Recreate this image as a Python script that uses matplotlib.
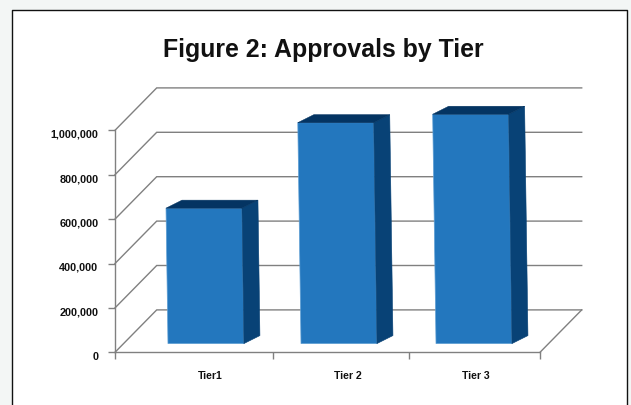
# Figure 2: fake 3D bars, approvals by tier

import matplotlib
matplotlib.use('Agg')
import matplotlib.pyplot as plt
from matplotlib.patches import Polygon, Rectangle
from matplotlib.ticker import FuncFormatter
from matplotlib.transforms import ScaledTranslation

plt.rcParams['font.family'] = ['Liberation Sans', 'DejaVu Sans']

categories = ['Tier1', 'Tier 2', 'Tier 3']
approvals = [610000, 995000, 1033000]
y_ticks = [0, 200000, 400000, 600000, 800000, 1000000]

W, H = 631, 406
GRID = '#808080'
FRONT = '#2377be'
SIDE = '#084276'
TOP = '#043462'

fig = plt.figure(figsize=(W / 100, H / 100), dpi=100)
fig.patch.set_facecolor('#f3f6f5')

# white panel, black frame on three sides (runs off the bottom)
fig.add_artist(Rectangle((12 / W, 0), 615 / W, 1 - 11 / H, transform=fig.transFigure,
                         facecolor='white', edgecolor='none', zorder=-2))
fig.add_artist(plt.Line2D([12 / W, 12 / W, 627 / W, 627 / W],
                          [0, 1 - 11 / H, 1 - 11 / H, 0],
                          transform=fig.transFigure, color='#111111', lw=1.0, zorder=-1))

fig.text(323 / W, 1 - 57 / H, 'Figure 2: Approvals by Tier', fontsize=17.9,
         fontweight='bold', ha='center', va='baseline', color='#111111')

# front plane of the chart
ax = fig.add_axes([115 / W, 1 - 353.3 / H, 425 / W, 222 / H])
ax.set_xlim(0, 3)
ax.set_ylim(0, 1000000)
ax.patch.set_alpha(0.0)

px_x = 3 / 425
px_y = 1000000 / 222

# back wall offset
wall_dx = 41.7 * px_x
wall_dy = 42.4 * px_y

for v in y_ticks:
    ax.plot([0, wall_dx, 3 + wall_dx], [v, v + wall_dy, v + wall_dy], color=GRID,
            lw=1.0, clip_on=False, zorder=1, solid_joinstyle='miter')
ax.plot([3, 3 + wall_dx], [0, wall_dy], color=GRID, lw=1.0, clip_on=False, zorder=1)

# bars
bar_centers = [0.642, 1.581, 2.534]
bar_w = 0.536
bar_base = 8.7 * px_y
depth_x = 16 * px_x
depth_y = 8 * px_y
lean = 3.2 * px_x / 220 / px_y  # the picture is slightly skewed

for c, v in zip(bar_centers, approvals):
    l = c - bar_w / 2
    r = c + bar_w / 2
    b = bar_base
    t = bar_base + v
    s = lean * v
    ax.add_patch(Polygon([(l, b), (r, b), (r - s, t), (l - s, t)], closed=True,
                         facecolor=FRONT, edgecolor='#5f9fd4', lw=0.5, clip_on=False, zorder=3))
    ax.add_patch(Polygon([(r, b), (r + depth_x, b + depth_y), (r + depth_x - s, t + depth_y), (r - s, t)],
                         closed=True, facecolor=SIDE, edgecolor=SIDE, lw=0.4, clip_on=False, zorder=3))
    ax.add_patch(Polygon([(l - s, t), (r - s, t), (r - s + depth_x, t + depth_y), (l - s + depth_x, t + depth_y)],
                         closed=True, facecolor=TOP, edgecolor=TOP, lw=0.4, clip_on=False, zorder=3))

# axes
for side in ['top', 'right']:
    ax.spines[side].set_visible(False)
for side in ['left', 'bottom']:
    ax.spines[side].set_color(GRID)
    ax.spines[side].set_linewidth(1.0)

ax.set_yticks(y_ticks)
ax.yaxis.set_major_formatter(FuncFormatter(lambda v, pos: f'{int(v):,}'))
ax.tick_params(axis='y', color=GRID, length=5, width=1.0, pad=7, labelsize=7.8, labelcolor='#111111')
# labels sit a little below their ticks in the original
label_shift = ScaledTranslation(0, -2.5 / 100, fig.dpi_scale_trans)
for lab in ax.get_yticklabels():
    lab.set_fontweight('bold')
    lab.set_transform(lab.get_transform() + label_shift)

ax.set_xticks([0, 1.115, 2.075, 3])
ax.set_xticklabels([])
ax.tick_params(axis='x', which='major', color=GRID, length=5, width=1.0)
ax.set_xticks([0.671, 1.645, 2.548], categories, minor=True)
ax.tick_params(axis='x', which='minor', length=0, pad=13, labelsize=7.6, labelcolor='#111111')
for lab in ax.get_xticklabels(minor=True):
    lab.set_fontweight('bold')

fig.savefig('out.png', dpi=100)
